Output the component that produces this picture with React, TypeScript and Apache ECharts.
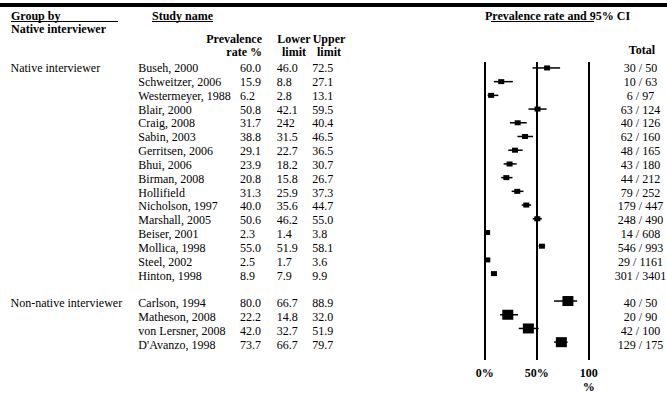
import React, { useEffect, useRef } from "react";
import * as echarts from "echarts";

// ---------- data ----------
const groupLabels = ["Native interviewer", "Non-native interviewer"];

const nativeStudies = [
  "Buseh, 2000", "Schweitzer, 2006", "Westermeyer, 1988", "Blair, 2000",
  "Craig, 2008", "Sabin, 2003", "Gerritsen, 2006", "Bhui, 2006",
  "Birman, 2008", "Hollifield", "Nicholson, 1997", "Marshall, 2005",
  "Beiser, 2001", "Mollica, 1998", "Steel, 2002", "Hinton, 1998",
];
const nativeRate = [60.0, 15.9, 6.2, 50.8, 31.7, 38.8, 29.1, 23.9, 20.8, 31.3, 40.0, 50.6, 2.3, 55.0, 2.5, 8.9];
const nativeLower = [46.0, 8.8, 2.8, 42.1, 24.2, 31.5, 22.7, 18.2, 15.8, 25.9, 35.6, 46.2, 1.4, 51.9, 1.7, 7.9];
const nativeUpper = [72.5, 27.1, 13.1, 59.5, 40.4, 46.5, 36.5, 30.7, 26.7, 37.3, 44.7, 55.0, 3.8, 58.1, 3.6, 9.9];
const nativeTotal = [
  "30 / 50", "10 / 63", "6 / 97", "63 / 124", "40 / 126", "62 / 160", "48 / 165", "43 / 180",
  "44 / 212", "79 / 252", "179 / 447", "248 / 490", "14 / 608", "546 / 993", "29 / 1161", "301 / 3401",
];
// the printed table shows "242" for Craig's lower limit
const nativeLowerPrinted: Record<number, string> = { 4: "242" };

const nonNativeStudies = ["Carlson, 1994", "Matheson, 2008", "von Lersner, 2008", "D'Avanzo, 1998"];
const nonNativeRate = [80.0, 22.2, 42.0, 73.7];
const nonNativeLower = [66.7, 14.8, 32.7, 66.7];
const nonNativeUpper = [88.9, 32.0, 51.9, 79.7];
const nonNativeTotal = ["40 / 50", "20 / 90", "42 / 100", "129 / 175"];

const xTicks = [0, 50, 100];

// ---------- build rows ----------
type Row = {
  idx: number; group: string; name: string; rate: number; lower: number; upper: number;
  lowerText: string; total: string; big: boolean;
};
const rows: Row[] = [];
nativeStudies.forEach((n, i) =>
  rows.push({
    idx: i, group: i === 0 ? groupLabels[0] : "", name: n,
    rate: nativeRate[i], lower: nativeLower[i], upper: nativeUpper[i],
    lowerText: nativeLowerPrinted[i] ?? nativeLower[i].toFixed(1),
    total: nativeTotal[i], big: false,
  })
);
nonNativeStudies.forEach((n, i) =>
  rows.push({
    idx: nativeStudies.length + 1 + i, group: i === 0 ? groupLabels[1] : "", name: n,
    rate: nonNativeRate[i], lower: nonNativeLower[i], upper: nonNativeUpper[i],
    lowerText: nonNativeLower[i].toFixed(1), total: nonNativeTotal[i], big: true,
  })
);

const FONT = "'Liberation Serif', 'Times New Roman', serif";
const Y_MIN = -0.433;
const Y_MAX = 21.3;
const GRID_TOP = 62;
const GRID_BOTTOM = 31;

export default function App() {
  const ref = useRef<HTMLDivElement>(null);
  useEffect(() => {
    if (!ref.current) return;
    const chart = echarts.init(ref.current, undefined, { renderer: "svg" });

    const txt = (x: number, y: number, text: string, align: string, bold = false) => ({
      type: "text",
      x, y,
      style: {
        text, x: 0, y: 0,
        fontFamily: FONT, fontSize: 12, fontWeight: bold ? "bold" : "normal",
        fill: "#000", align, verticalAlign: "middle",
        textAlign: align, textVerticalAlign: "middle",
      },
    });

    const option: any = {
      animation: false,
      backgroundColor: "#fff",
      grid: [
        { left: 484.7, right: 667 - 588.7, top: GRID_TOP, bottom: GRID_BOTTOM, containLabel: false },
        { left: 0, right: 0, top: GRID_TOP, bottom: GRID_BOTTOM, containLabel: false },
      ],
      xAxis: [
        {
          gridIndex: 0, type: "value", min: xTicks[0], max: xTicks[2], interval: 50,
          axisLine: { show: false }, axisTick: { show: false },
          splitLine: { show: true, lineStyle: { color: "#000", width: 2 } },
          axisLabel: {
            margin: 6, color: "#000", fontFamily: FONT, fontWeight: "bold", fontSize: 12, lineHeight: 14,
            formatter: (v: number) => (v === 100 ? "100\n%" : v + "%"),
          },
        },
        { gridIndex: 1, type: "value", min: 0, max: 667, show: false, splitLine: { show: false } },
      ],
      yAxis: [
        { gridIndex: 0, type: "value", min: Y_MIN, max: Y_MAX, inverse: true, show: false, splitLine: { show: false } },
        { gridIndex: 1, type: "value", min: Y_MIN, max: Y_MAX, inverse: true, show: false, splitLine: { show: false } },
      ],
      graphic: [
        { type: "rect", shape: { x: 0, y: 3, width: 667, height: 4 }, style: { fill: "#000" } },
        txt(11, 16, "Group by", "left", true),
        { type: "line", shape: { x1: 11, y1: 21.5, x2: 118, y2: 21.5 }, style: { stroke: "#000", lineWidth: 1 } },
        txt(11, 28.5, "Native interviewer", "left", true),
        txt(152, 16, "Study name", "left", true),
        { type: "line", shape: { x1: 152, y1: 21.5, x2: 213, y2: 21.5 }, style: { stroke: "#000", lineWidth: 1 } },
        txt(262, 38.5, "Prevalence", "right", true),
        txt(262, 51.5, "rate %", "right", true),
        txt(294, 38.5, "Lower", "center", true),
        txt(294, 51.5, "limit", "center", true),
        txt(329, 38.5, "Upper", "center", true),
        txt(329, 51.5, "limit", "center", true),
        txt(485, 16, "Prevalence rate and 95% CI", "left", true),
        { type: "line", shape: { x1: 491, y1: 21.5, x2: 594, y2: 21.5 }, style: { stroke: "#000", lineWidth: 1 } },
        txt(655, 50, "Total", "right", true),
      ],
      series: [
        {
          type: "custom",
          xAxisIndex: 0, yAxisIndex: 0,
          data: rows.map((r) => [r.rate, r.idx, r.lower, r.upper]),
          renderItem: (params: any, api: any) => {
            const r = rows[params.dataIndex];
            const p = api.coord([api.value(0), api.value(1)]);
            const l = api.coord([api.value(2), api.value(1)]);
            const u = api.coord([api.value(3), api.value(1)]);
            const w = r.big ? 11 : 6;
            const h = r.big ? 10 : 5;
            return {
              type: "group",
              children: [
                { type: "line", shape: { x1: l[0], y1: p[1], x2: u[0], y2: p[1] }, style: { stroke: "#000", lineWidth: 1.5 } },
                { type: "rect", shape: { x: p[0] - w / 2, y: p[1] - h / 2, width: w, height: h }, style: { fill: "#000" } },
              ],
            };
          },
        },
        {
          type: "custom",
          xAxisIndex: 1, yAxisIndex: 1,
          data: rows.map((r) => [0, r.idx]),
          renderItem: (params: any, api: any) => {
            const r = rows[params.dataIndex];
            const y = api.coord([0, api.value(1)])[1];
            const children: any[] = [];
            if (r.group) children.push(txt(10.5, y, r.group, "left"));
            children.push(txt(138.3, y, r.name, "left"));
            children.push(txt(240, y, r.rate.toFixed(1), "left"));
            children.push(txt(276.7, y, r.lowerText, "left"));
            children.push(txt(312.3, y, r.upper.toFixed(1), "left"));
            children.push(txt(640.5, y, r.total, "center"));
            return { type: "group", children };
          },
        },
      ],
    };
    chart.setOption(option);
    return () => chart.dispose();
  }, []);
  return (
    <div
      ref={ref}
      style={{ position: "fixed", left: 0, top: 0, width: 667, height: 394, background: "#fff" }}
    />
  );
}
